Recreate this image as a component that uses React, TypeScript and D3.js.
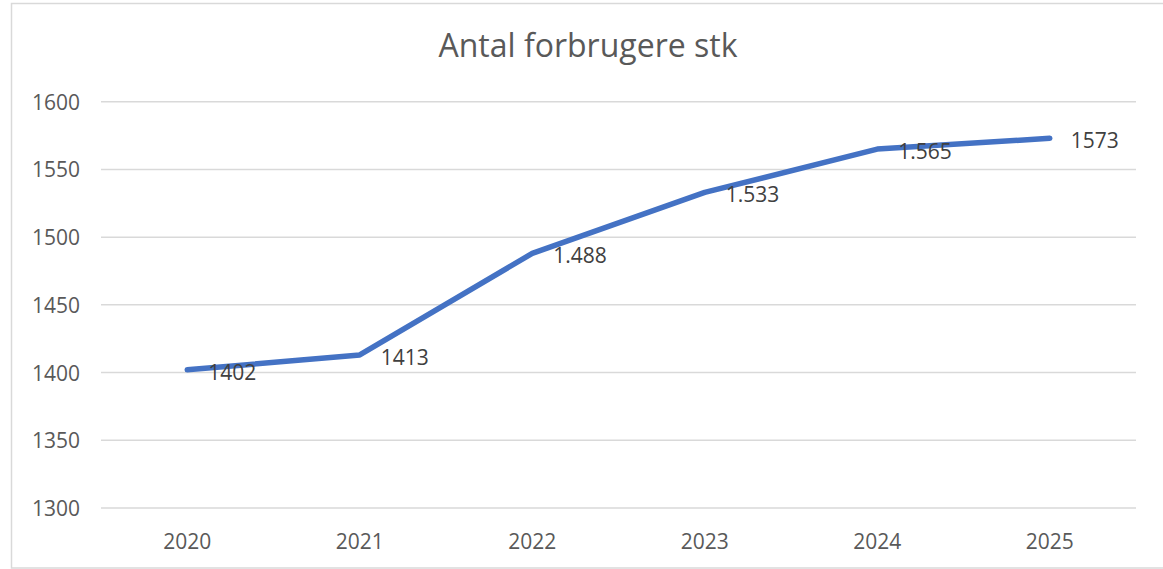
import React from "react";
import * as d3 from "d3";

const years = ["2020", "2021", "2022", "2023", "2024", "2025"];
const values = [1402, 1413, 1488, 1533, 1565, 1573];
const valueLabels = ["1402", "1413", "1.488", "1.533", "1.565", "1573"];
const yTicks = [1300, 1350, 1400, 1450, 1500, 1550, 1600];
const title = "Antal forbrugere stk";

export default function App() {
  const W = 1163, H = 569;
  const left = 101, right = 1136, top = 101.7, bottom = 508;
  const x = d3.scaleBand<string>().domain(years).range([left, right]);
  const y = d3.scaleLinear().domain([1300, 1600]).range([bottom, top]);
  const cx = (d: string) => (x(d) as number) + x.bandwidth() / 2;
  const line = d3.line<number>().x((_, i) => cx(years[i])).y((v) => y(v));
  const font = "'Open Sans', 'Noto Sans', sans-serif";
  const grey = "#595959";
  const fs = 21;
  return (
    <svg width={W} height={H} style={{ position: "absolute", left: 0, top: 0, background: "#fff" }} fontFamily={font}>
      <rect x={11.5} y={3.5} width={1160} height={564.5} fill="#fff" stroke="#d9d9d9" strokeWidth={1.5} />
      <text x={588} y={57} textAnchor="middle" fontSize={32} fill={grey}>{title}</text>
      {yTicks.map((t) => (
        <g key={t}>
          <line x1={left} x2={right} y1={y(t)} y2={y(t)} stroke="#d9d9d9" strokeWidth={1.5} />
          <text x={80} y={y(t)} textAnchor="end" dominantBaseline="central" fontSize={fs} fill={grey}>{t}</text>
        </g>
      ))}
      {years.map((yr) => (
        <text key={yr} x={cx(yr)} y={541} textAnchor="middle" dominantBaseline="central" fontSize={fs} fill={grey}>{yr}</text>
      ))}
      <path d={line(values) || ""} fill="none" stroke="#4472C4" strokeWidth={5.5} strokeLinecap="round" strokeLinejoin="round" />
      {values.map((v, i) => (
        <text key={i} x={cx(years[i]) + 21} y={y(v) + 2} dominantBaseline="central" fontSize={fs} fill="#404040">{valueLabels[i]}</text>
      ))}
    </svg>
  );
}
